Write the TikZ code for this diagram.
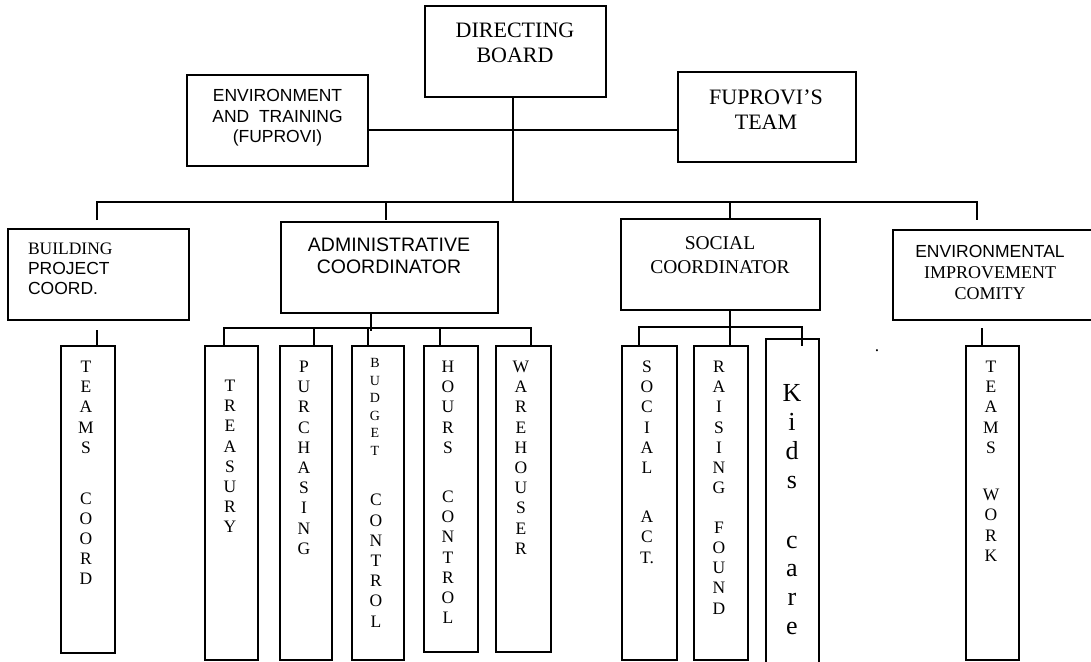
\documentclass[tikz,border=0pt]{standalone}
\usepackage{fontspec}
\setmainfont{Liberation Serif}
\setsansfont{Liberation Sans}
\newcommand\setfs[2]{\fontsize{#1pt}{#2pt}\selectfont}
\tikzset{
  unit/.style={draw, line width=1.6pt, inner sep=0pt, outer sep=0pt},
  link/.style={line width=1.6pt},
  lbl/.style={inner sep=0pt, outer sep=0pt, align=center, anchor=north},
  vlab/.style={lbl, font=\rmfamily\setfs{17.5}{20.2}},
}
\begin{document}
\begin{tikzpicture}[x=1pt, y=-1pt]
\useasboundingbox (0,0) rectangle (1091,661);
\fill[white] (0,0) rectangle (1091,661);

% --- upper level
\node[unit, minimum width=181pt, minimum height=91pt] (db)  at (515.5,51.5) {};
\node[unit, minimum width=181pt, minimum height=91pt] (env) at (277.5,120.5) {};
\node[unit, minimum width=178pt, minimum height=90pt] (fup) at (767,117) {};

% --- coordinators
\node[unit, minimum width=181pt, minimum height=91pt] (bld) at (98.5,274.5) {};
\node[unit, minimum width=217pt, minimum height=91pt] (adm) at (389.5,267.5) {};
\node[unit, minimum width=199pt, minimum height=91pt] (soc) at (720.5,264.5) {};
\node[unit, minimum width=201pt, minimum height=90pt] (eic) at (993.5,275) {};

% --- vertical units
\node[unit, minimum width=54pt, minimum height=307pt] (tc)  at (88,499.5) {};
\node[unit, minimum width=53pt, minimum height=314pt] (tre) at (231.5,503) {};
\node[unit, minimum width=52pt, minimum height=314pt] (pur) at (306,503) {};
\node[unit, minimum width=52pt, minimum height=314pt] (bud) at (378,503) {};
\node[unit, minimum width=54pt, minimum height=306pt] (hrs) at (451,499) {};
\node[unit, minimum width=55pt, minimum height=306pt] (war) at (523.5,499) {};
\node[unit, minimum width=55pt, minimum height=314pt] (sa)  at (649.5,503) {};
\node[unit, minimum width=54pt, minimum height=314pt] (rf)  at (721,503) {};
\node[unit, minimum width=53pt, minimum height=331pt] (kc)  at (792.5,504.5) {};
\node[unit, minimum width=53pt, minimum height=314pt] (tw)  at (992.5,503) {};

% --- junction points of the connector lines
\coordinate (hl) at (513,130);
\coordinate (bc) at (513,202);
\coordinate (b1) at (97,202);
\coordinate (b2) at (386,202);
\coordinate (b3) at (730,202);
\coordinate (b4) at (977,202);
\coordinate (ab) at (371,331);
\coordinate (a1) at (224,328);
\coordinate (a2) at (314,328);
\coordinate (a3) at (368,328);
\coordinate (a4) at (440,328);
\coordinate (a5) at (531,328);
\coordinate (s1) at (639,327);
\coordinate (s3) at (802,327);
\coordinate (e1) at (982,328);

% --- connectors
\draw[link] (env.east |- hl) -- (fup.west |- hl);
\draw[link] (db.south -| bc) -- (bc);
\draw[link, shorten <=9pt, shorten >=10pt]
  (b1 |- bld.north) -- (b1) -- (b4) -- (b4 |- eic.north);
\draw[link, shorten >=2pt] (b2) -- (b2 |- adm.north);
\draw[link] (b3) -- (b3 |- soc.north);

\draw[link, shorten <=10pt] (bld.south -| b1) -- (tc.north -| b1);

\draw[link] (adm.south -| ab) -- (ab);
\draw[link] (a1 |- tre.north) -- (a1) -- (a5) -- (a5 |- war.north);
\draw[link] (a2) -- (a2 |- pur.north);
\draw[link] (a3) -- (a3 |- bud.north);
\draw[link] (a4) -- (a4 |- hrs.north);

\draw[link] (soc.south -| b3) -- (rf.north -| b3);
\draw[link] (s1 |- sa.north) -- (s1) -- (s3) -- (s3 |- sa.north);

\draw[link, shorten <=8pt] (eic.south -| e1) -- (tw.north -| e1);

% --- box texts
\node[lbl, font=\rmfamily\setfs{22}{25}] (dbt) at (515,22.8) {DIRECTING\\BOARD};
\node[lbl, font=\rmfamily\setfs{22}{25}] (fupt) at (766,89.8) {FUPROVI’S\\TEAM};
\node[lbl, font=\sffamily\setfs{17.5}{20.5}] (envt) at (277.5,89.3)
  {ENVIRONMENT\\AND\ \ TRAINING\\(FUPROVI)};
\node[lbl, anchor=north west, align=left, font=\setfs{17.5}{20}] (bldt) at (28,243.3)
  {\rmfamily BUILDING\\\sffamily PROJECT\\\sffamily COORD.};
\node[lbl, font=\sffamily\setfs{19.5}{21.5}] (admt) at (389,238.3)
  {ADMINISTRATIVE\\COORDINATOR};
\node[lbl, font=\rmfamily\setfs{19.5}{24.5}] (soct) at (720,236.1)
  {SOCIAL\\COORDINATOR};
\node[lbl, font=\setfs{17.5}{21}] (eict) at (990,245)
  {\sffamily ENVIRONMENTAL\\\rmfamily\setfs{18}{21}IMPROVEMENT\\\rmfamily\setfs{18}{21}COMITY};

% --- vertical texts
\node[vlab] (tcl) at (86,361) {T\\E\\A\\M\\S\\[30.6pt]C\\O\\O\\R\\D};
\node[vlab] (trel) at (230,380) {T\\R\\E\\A\\S\\U\\R\\Y};
\node[vlab] (purl) at (304,361) {P\\U\\R\\C\\H\\A\\S\\I\\N\\G};
\node[lbl, font=\rmfamily\setfs{14}{17.5}] (budl) at (375,358.7) {B\\U\\D\\G\\E\\T};
\node[vlab] (budl2) at (376,494.3) {C\\O\\N\\T\\R\\O\\L};
\node[vlab] (hrsl) at (448,361) {H\\O\\U\\R\\S\\[29pt]C\\O\\N\\T\\R\\O\\L};
\node[vlab] (warl) at (521,361) {W\\A\\R\\E\\H\\O\\U\\S\\E\\R};
\node[vlab] (sal) at (647,361) {S\\O\\C\\I\\A\\L\\[29pt]A\\C\\T.};
\node[vlab] (rfl) at (719,361) {R\\A\\I\\S\\I\\N\\G\\[19.4pt]F\\O\\U\\N\\D};
\node[lbl, font=\rmfamily\setfs{26}{28.8}] (kcl) at (792,384.8) {K\\i\\d\\s\\[31pt]c\\a\\r\\e};
\node[vlab] (twl) at (991,361) {T\\E\\A\\M\\S\\[27.3pt]W\\O\\R\\K};
\node[inner sep=0pt, anchor=base, font=\rmfamily\setfs{17.5}{20}] (dot) at (877,351) {.};
\end{tikzpicture}
\end{document}
